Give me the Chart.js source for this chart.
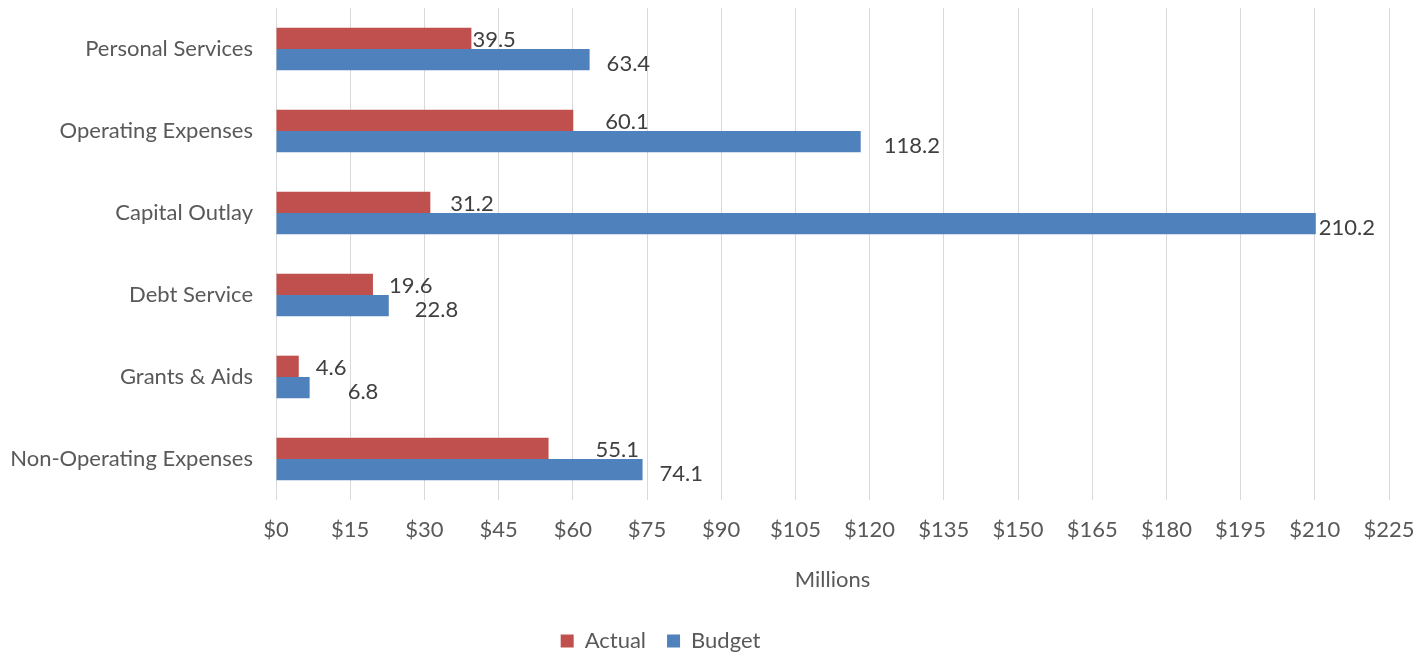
<!DOCTYPE html>
<html>
<head>
<meta charset="utf-8">
<script src="https://cdn.jsdelivr.net/npm/chart.js@4/dist/chart.umd.min.js"></script>
<style>
  html, body { margin: 0; padding: 0; background: #fff; }
  #wrap { width: 1423px; height: 657px; }
</style>
</head>
<body>
<div id="wrap"><canvas id="spend-chart"></canvas></div>
<script>
// spending by category, in millions
const categories = ['Personal Services', 'Operating Expenses', 'Capital Outlay', 'Debt Service', 'Grants & Aids', 'Non-Operating Expenses'];
const actual = [39.5, 60.1, 31.2, 19.6, 4.6, 55.1];
const budget = [63.4, 118.2, 210.2, 22.8, 6.8, 74.1];
const xTicks = { min: 0, max: 225, step: 15 };

// hand-placed label nudges (px from the bar end)
const labelNudge = [
    [1, 32, 20, 16, 17, 47],
    [17, 23, 3, 26, 38, 17]
];

const FONT = 'Lato';
const textGray = '#595959';

// draws the value next to each bar
const valueLabels = {
    id: 'valueLabels',
    afterDatasetsDraw(chart) {
        const ctx = chart.ctx;
        ctx.save();
        ctx.font = '22px ' + FONT;
        ctx.fillStyle = '#404040';
        ctx.textAlign = 'left';
        ctx.textBaseline = 'middle';
        chart.data.datasets.forEach(function(ds, i) {
            chart.getDatasetMeta(i).data.forEach(function(bar, j) {
                const dy = i === 0 ? 2 : 4;
                ctx.fillText(ds.data[j].toFixed(1), bar.x + labelNudge[i][j], bar.y + dy);
            });
        });
        ctx.restore();
    }
};

// legend sits a bit left of centre and a little lower
const legendShift = {
    id: 'legendShift',
    afterLayout(chart) {
        const lg = chart.legend;
        lg.left -= 34;
        lg.right -= 34;
        lg.top += 5;
        lg.bottom += 5;
    }
};

document.addEventListener('DOMContentLoaded', function() {
    var ctx = document.getElementById('spend-chart');
    new Chart(ctx, {
        type: 'bar',
        data: {
            labels: categories,
            datasets: [
                {
                    label: 'Actual',
                    data: actual,
                    backgroundColor: '#C0504D',
                    borderWidth: 0
                },
                {
                    label: 'Budget',
                    data: budget,
                    backgroundColor: '#4F81BD',
                    borderWidth: 0
                }
            ]
        },
        options: {
            indexAxis: 'y',
            responsive: true,
            maintainAspectRatio: false,
            animation: false,
            categoryPercentage: 0.52,
            barPercentage: 1.0,
            layout: {
                padding: { top: 8, right: 34, left: 0, bottom: 0 }
            },
            plugins: {
                legend: {
                    position: 'bottom',
                    labels: {
                        font: { family: FONT, size: 22 },
                        color: textGray,
                        boxWidth: 13,
                        boxHeight: 13,
                        padding: 21
                    }
                },
                tooltip: { enabled: false }
            },
            scales: {
                x: {
                    min: xTicks.min,
                    max: xTicks.max,
                    border: { display: false },
                    grid: {
                        color: '#D9D9D9',
                        lineWidth: 1,
                        drawTicks: false
                    },
                    ticks: {
                        stepSize: xTicks.step,
                        padding: 17,
                        color: textGray,
                        font: { family: FONT, size: 22 },
                        maxRotation: 0,
                        callback: function(v) { return '$' + v; }
                    },
                    title: {
                        display: true,
                        text: 'Millions',
                        color: textGray,
                        font: { family: FONT, size: 22 },
                        padding: { top: 10, bottom: 11 }
                    },
                    afterFit: function(scale) {
                        scale.height = 104;
                        scale.paddingLeft = 0;
                        scale.paddingRight = 0;
                    }
                },
                y: {
                    border: { display: false },
                    grid: { display: false, drawTicks: false },
                    ticks: {
                        padding: 23,
                        color: textGray,
                        font: { family: FONT, size: 22 }
                    },
                    afterFit: function(scale) {
                        scale.width = 276;
                        scale.paddingTop = 0;
                        scale.paddingBottom = 0;
                    }
                }
            }
        },
        plugins: [valueLabels, legendShift]
    });
});
</script>
</body>
</html>
